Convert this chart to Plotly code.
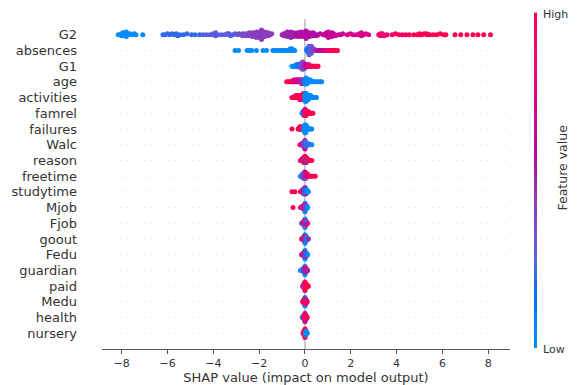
import numpy as np
import plotly.graph_objects as go

# ---------------- data ----------------
# feature order, top (most important) to bottom
feature_names = ["G2", "absences", "G1", "age", "activities", "famrel", "failures",
                 "Walc", "reason", "freetime", "studytime", "Mjob", "Fjob", "goout",
                 "Fedu", "guardian", "paid", "Medu", "health", "nursery"]

# each entry: (SHAP value, raw feature value, number of samples at that point)
G2 = [(-8.15, 0, 1), (-8.05, 0, 1), (-8.0, 0, 2), (-7.95, 0, 1), (-7.9, 0, 2), (-7.85, 0, 2), (-7.8, 0, 2),
      (-7.72, 0, 1), (-7.65, 0, 1), (-7.55, 0, 1), (-7.45, 0, 1), (-7.38, 0, 1), (-7.08, 0, 1),
      (-6.2, 3, 1), (-6.1, 3, 1), (-6.0, 3, 1), (-5.9, 3, 1), (-5.8, 3, 1), (-5.7, 3, 1), (-5.62, 3, 2),
      (-5.55, 3, 1), (-5.45, 3, 1), (-5.3, 3, 1), (-5.15, 3, 1), (-4.95, 3, 1), (-4.8, 3, 1), (-4.6, 3, 1),
      (-4.45, 4, 1), (-4.3, 4, 1), (-4.15, 4, 1), (-4.0, 4, 2), (-3.9, 4, 2), (-3.8, 4, 1), (-3.65, 4, 1),
      (-3.5, 4, 1), (-3.4, 4, 1), (-3.32, 4, 2), (-3.25, 4, 1), (-3.15, 4, 1), (-3.05, 4, 1), (-2.95, 4, 1),
      (-2.88, 5, 1), (-2.8, 5, 1), (-2.72, 5, 2), (-2.65, 5, 1), (-2.58, 5, 2), (-2.5, 5, 2), (-2.42, 6, 2),
      (-2.35, 5, 2), (-2.28, 6, 3), (-2.2, 6, 3), (-2.12, 6, 4), (-2.05, 5, 3), (-1.98, 6, 4), (-1.9, 6, 4),
      (-1.82, 6, 3), (-1.75, 6, 3), (-1.68, 6, 2), (-1.6, 6, 2), (-1.52, 6, 1), (-1.45, 6, 1),
      (-1.0, 7, 1), (-0.92, 7, 2), (-0.85, 7, 3), (-0.78, 7, 3), (-0.7, 7, 4), (-0.62, 7, 3), (-0.55, 7, 3),
      (-0.48, 7, 2), (-0.4, 7, 2), (-0.32, 8, 3), (-0.25, 8, 3), (-0.18, 8, 3), (-0.1, 8, 3), (-0.02, 8, 3),
      (0.05, 8, 3), (0.12, 8, 2), (0.2, 8, 3), (0.28, 8, 2), (0.35, 8, 2), (0.42, 8, 2), (0.5, 8, 1),
      (0.58, 8, 1), (0.66, 8, 1),
      (0.8, 9, 1), (0.88, 9, 2), (0.95, 9, 2), (1.02, 9, 3), (1.1, 9, 3), (1.18, 9, 2), (1.25, 9, 2),
      (1.33, 9, 1), (1.45, 9, 1), (1.55, 9, 1), (1.65, 9, 1),
      (1.85, 10, 1), (1.98, 10, 1), (2.1, 10, 1), (2.25, 10, 1), (2.38, 10, 2), (2.46, 10, 2), (2.55, 10, 1),
      (2.65, 10, 1), (2.78, 10, 1),
      (3.22, 12, 1), (3.3, 12, 2), (3.38, 12, 2), (3.46, 12, 1), (3.58, 12, 1),
      (3.8, 13, 1), (3.95, 13, 1), (4.1, 13, 1), (4.25, 13, 1), (4.4, 13, 1), (4.55, 13, 1),
      (4.75, 14, 1), (4.9, 14, 1), (5.0, 14, 2), (5.1, 14, 1), (5.2, 14, 1), (5.32, 14, 2), (5.45, 14, 1),
      (5.6, 14, 1), (5.75, 14, 1), (5.9, 14, 1), (6.05, 14, 1), (6.15, 14, 1),
      (6.55, 15, 1), (6.8, 15, 1), (7.07, 16, 1), (7.33, 16, 1), (7.55, 17, 1), (7.8, 17, 1), (8.1, 18, 1)]

absences = [(-3.05, 0, 1), (-2.9, 0, 1), (-2.52, 0, 1), (-2.42, 0, 1), (-2.32, 0, 1), (-2.12, 0, 1),
            (-1.83, 0, 1), (-1.68, 0, 1), (-1.4, 0, 1), (-1.3, 0, 1), (-1.2, 0, 1), (-1.12, 0, 1),
            (-1.02, 0, 1), (-0.95, 0, 1), (-0.85, 0, 1), (-0.78, 0, 1), (-0.7, 0, 1), (-0.65, 0, 2),
            (-0.6, 0, 2), (-0.55, 0, 2), (-0.5, 0, 1), (-0.45, 0, 1),
            (0.08, 2, 2), (0.12, 2, 3), (0.15, 3, 3), (0.18, 3, 4), (0.2, 2, 2), (0.22, 4, 3), (0.25, 3, 3),
            (0.28, 4, 3), (0.3, 4, 2), (0.33, 5, 2), (0.37, 5, 1), (0.4, 5, 1),
            (0.45, 6, 1), (0.5, 6, 1), (0.55, 7, 1), (0.6, 7, 1), (0.65, 8, 1), (0.7, 8, 1), (0.75, 8, 1),
            (0.8, 9, 1), (0.85, 9, 1), (0.9, 10, 1), (0.95, 10, 1), (1.0, 11, 1), (1.05, 11, 1),
            (1.1, 12, 1), (1.15, 12, 1), (1.2, 13, 1), (1.25, 13, 1), (1.3, 14, 1), (1.36, 15, 1), (1.42, 16, 1)]

G1 = [(-0.57, 6, 1), (-0.52, 6, 1), (-0.48, 7, 1), (-0.44, 7, 1), (-0.41, 7, 1), (-0.38, 8, 2),
      (-0.35, 8, 1), (-0.32, 8, 2), (-0.29, 9, 2), (-0.26, 9, 2), (-0.23, 9, 2),
      (-0.2, 10, 3), (-0.18, 10, 3), (-0.16, 10, 2), (-0.16, 11, 2), (-0.14, 11, 4), (-0.12, 10, 3),
      (-0.12, 11, 2), (-0.1, 11, 3), (-0.1, 12, 3), (-0.08, 11, 4), (-0.06, 12, 3), (-0.06, 11, 2),
      (-0.04, 12, 3), (-0.02, 12, 3), (0.0, 12, 3), (0.02, 13, 2), (0.02, 12, 1), (0.04, 13, 2),
      (0.06, 13, 2), (0.08, 14, 2),
      (0.1, 14, 2), (0.12, 15, 2), (0.14, 15, 2), (0.16, 15, 1), (0.18, 16, 2), (0.2, 16, 1),
      (0.23, 16, 1), (0.26, 17, 1), (0.3, 17, 1), (0.34, 17, 1), (0.38, 18, 1), (0.43, 18, 1),
      (0.48, 18, 1), (0.53, 19, 1), (0.57, 19, 1)]

age = [(-0.8, 20, 1), (-0.74, 19, 1), (-0.68, 19, 1), (-0.62, 19, 1), (-0.56, 19, 1), (-0.5, 18, 2),
       (-0.45, 18, 2), (-0.4, 18, 2), (-0.36, 18, 2), (-0.32, 18, 2), (-0.28, 18, 2), (-0.24, 18, 2),
       (-0.2, 17, 2), (-0.17, 17, 2), (-0.14, 17, 3), (-0.11, 17, 2), (-0.08, 17, 2), (-0.05, 16, 2),
       (-0.02, 16, 3), (0.01, 16, 3), (0.03, 16, 3), (0.05, 15, 4), (0.07, 15, 3), (0.09, 15, 3),
       (0.12, 15, 2), (0.15, 15, 2), (0.19, 15, 2), (0.24, 15, 2), (0.3, 15, 1), (0.36, 15, 1),
       (0.42, 15, 1), (0.5, 15, 1), (0.58, 15, 1), (0.66, 15, 1), (0.73, 15, 1)]

activities = [(-0.57, 1, 1), (-0.52, 1, 1), (-0.47, 1, 1), (-0.43, 1, 2), (-0.39, 1, 2), (-0.35, 1, 2),
              (-0.31, 1, 2), (-0.27, 1, 2), (-0.23, 1, 3), (-0.2, 1, 3), (-0.17, 1, 3), (-0.14, 1, 3),
              (-0.11, 1, 3), (-0.08, 1, 4), (-0.05, 1, 4), (-0.03, 0, 3), (-0.01, 1, 3), (0.01, 0, 5),
              (0.03, 0, 4), (0.05, 0, 5), (0.07, 0, 4), (0.09, 0, 3), (0.12, 0, 3), (0.15, 0, 3),
              (0.18, 0, 2), (0.22, 0, 2), (0.26, 0, 2), (0.3, 0, 1), (0.35, 0, 1), (0.4, 0, 1),
              (0.45, 0, 1), (0.5, 0, 1)]

famrel = [(-0.13, 2, 1), (-0.11, 2, 1), (-0.09, 2, 2), (-0.07, 3, 2), (-0.05, 3, 3), (-0.04, 2, 2),
          (-0.03, 3, 3), (-0.02, 4, 3), (-0.01, 3, 3), (0.0, 4, 4), (0.01, 4, 4), (0.02, 5, 3),
          (0.03, 4, 3), (0.04, 5, 3), (0.05, 5, 3), (0.07, 5, 2), (0.09, 5, 2), (0.11, 5, 2),
          (0.14, 5, 2), (0.17, 5, 1), (0.2, 5, 1), (0.23, 5, 1), (0.26, 5, 1), (0.3, 5, 1), (0.35, 5, 1)]

failures = [(-0.57, 3, 1), (-0.3, 2, 1), (-0.27, 2, 1), (-0.24, 1, 2), (-0.21, 1, 2), (-0.18, 1, 2),
            (-0.15, 1, 2), (-0.12, 1, 2), (-0.1, 1, 2), (-0.08, 0, 2), (-0.06, 1, 2), (-0.04, 0, 3),
            (-0.02, 0, 4), (0.0, 0, 5), (0.01, 0, 5), (0.02, 0, 5), (0.03, 0, 4), (0.04, 0, 4),
            (0.05, 0, 3), (0.07, 0, 2), (0.09, 0, 2), (0.12, 0, 1), (0.16, 0, 1), (0.2, 0, 1),
            (0.25, 0, 1), (0.3, 0, 1)]

Walc = [(-0.22, 4, 1), (-0.18, 4, 1), (-0.15, 3, 1), (-0.12, 3, 2), (-0.1, 2, 2), (-0.08, 3, 2),
        (-0.06, 2, 3), (-0.04, 3, 3), (-0.03, 2, 3), (-0.02, 3, 4), (-0.01, 4, 4), (0.0, 2, 4),
        (0.0, 3, 3), (0.01, 1, 4), (0.02, 2, 4), (0.03, 3, 3), (0.04, 1, 3), (0.05, 2, 3),
        (0.07, 1, 2), (0.09, 2, 2), (0.12, 1, 2), (0.15, 2, 1), (0.19, 1, 1), (0.24, 2, 1), (0.3, 1, 1)]

reason = [(-0.2, 3, 1), (-0.16, 3, 1), (-0.12, 2, 2), (-0.09, 3, 2), (-0.06, 3, 3), (-0.04, 2, 3),
          (-0.02, 3, 4), (-0.01, 3, 4), (0.0, 3, 4), (0.01, 2, 4), (0.02, 3, 4), (0.03, 1, 3),
          (0.04, 3, 3), (0.06, 2, 3), (0.08, 3, 2), (0.1, 3, 2), (0.13, 0, 1), (0.16, 3, 1),
          (0.2, 3, 1), (0.25, 3, 1), (0.3, 3, 1)]

freetime = [(-0.2, 2, 1), (-0.16, 2, 1), (-0.12, 3, 2), (-0.09, 2, 2), (-0.07, 3, 3), (-0.05, 3, 3),
            (-0.03, 3, 4), (-0.02, 4, 3), (-0.01, 3, 4), (0.0, 3, 4), (0.01, 4, 4), (0.02, 3, 3),
            (0.03, 4, 3), (0.05, 3, 3), (0.07, 4, 2), (0.09, 4, 2), (0.12, 5, 2), (0.15, 4, 1),
            (0.2, 5, 1), (0.26, 5, 1), (0.35, 5, 1), (0.45, 5, 1)]

studytime = [(-0.57, 4, 1), (-0.44, 4, 1), (-0.2, 3, 1), (-0.16, 3, 1), (-0.12, 3, 2), (-0.09, 3, 2),
             (-0.06, 2, 3), (-0.04, 2, 3), (-0.02, 2, 4), (-0.01, 1, 4), (0.0, 2, 4), (0.01, 1, 4),
             (0.02, 2, 4), (0.03, 1, 3), (0.05, 2, 3), (0.07, 1, 2), (0.09, 1, 2), (0.12, 1, 1), (0.15, 1, 1)]

Mjob = [(-0.52, 4, 1), (-0.2, 3, 1), (-0.15, 4, 1), (-0.12, 3, 2), (-0.09, 4, 2), (-0.06, 2, 3),
        (-0.04, 3, 3), (-0.02, 1, 3), (-0.01, 4, 3), (0.0, 2, 4), (0.0, 0, 3), (0.01, 3, 4),
        (0.02, 1, 3), (0.03, 4, 3), (0.05, 0, 3), (0.07, 2, 2), (0.09, 1, 2), (0.12, 0, 1)]

Fjob = [(-0.15, 0, 1), (-0.11, 3, 1), (-0.08, 2, 2), (-0.05, 4, 3), (-0.03, 1, 3), (-0.02, 3, 4),
        (-0.01, 2, 4), (0.0, 4, 4), (0.0, 0, 3), (0.01, 2, 4), (0.02, 3, 4), (0.03, 1, 3),
        (0.05, 4, 3), (0.07, 0, 2), (0.09, 2, 1), (0.12, 3, 1)]

goout = [(-0.15, 4, 1), (-0.11, 3, 1), (-0.08, 3, 2), (-0.05, 2, 3), (-0.03, 3, 3), (-0.02, 1, 4),
         (-0.01, 2, 4), (0.0, 3, 4), (0.0, 1, 3), (0.01, 2, 4), (0.02, 3, 4), (0.03, 2, 3),
         (0.05, 1, 3), (0.07, 2, 2), (0.09, 1, 2), (0.12, 1, 1), (0.15, 2, 1)]

Fedu = [(-0.15, 3, 1), (-0.11, 2, 1), (-0.08, 2, 2), (-0.05, 3, 3), (-0.03, 1, 3), (-0.02, 2, 4),
        (-0.01, 3, 4), (0.0, 2, 4), (0.0, 1, 3), (0.01, 2, 4), (0.02, 3, 3), (0.03, 1, 3),
        (0.05, 2, 3), (0.07, 1, 2), (0.09, 2, 1), (0.12, 1, 1)]

guardian = [(-0.2, 0, 1), (-0.15, 0, 1), (-0.11, 0, 2), (-0.08, 0, 2), (-0.05, 1, 3), (-0.03, 0, 3),
            (-0.02, 1, 4), (-0.01, 1, 4), (0.0, 1, 4), (0.0, 0, 3), (0.01, 1, 4), (0.02, 2, 3),
            (0.03, 1, 3), (0.05, 1, 3), (0.07, 2, 2), (0.09, 1, 1), (0.12, 1, 1)]

paid = [(-0.1, 1, 1), (-0.07, 1, 2), (-0.05, 1, 3), (-0.03, 0, 3), (-0.02, 1, 4), (-0.01, 1, 4),
        (0.0, 0, 4), (0.0, 1, 3), (0.01, 1, 4), (0.02, 0, 3), (0.03, 1, 3), (0.05, 1, 3),
        (0.07, 1, 2), (0.09, 1, 2), (0.12, 1, 1), (0.15, 1, 1)]

Medu = [(-0.1, 4, 1), (-0.07, 3, 2), (-0.05, 4, 3), (-0.03, 4, 3), (-0.02, 3, 4), (-0.01, 4, 4),
        (0.0, 4, 4), (0.0, 2, 3), (0.01, 4, 4), (0.02, 3, 4), (0.03, 4, 3), (0.05, 4, 3),
        (0.07, 3, 2), (0.1, 4, 1)]

health = [(-0.12, 1, 1), (-0.09, 1, 2), (-0.06, 2, 2), (-0.04, 5, 3), (-0.02, 4, 4), (-0.01, 5, 4),
          (0.0, 5, 4), (0.0, 3, 3), (0.01, 5, 4), (0.02, 4, 4), (0.03, 5, 3), (0.05, 4, 3),
          (0.07, 5, 2), (0.1, 5, 1)]

nursery = [(-0.08, 1, 1), (-0.06, 1, 2), (-0.04, 1, 3), (-0.02, 1, 4), (-0.01, 1, 4), (0.0, 1, 4),
           (0.0, 1, 3), (0.01, 1, 4), (0.02, 1, 4), (0.03, 0, 3), (0.05, 0, 2), (0.07, 0, 2), (0.1, 0, 1)]

feature_data = [G2, absences, G1, age, activities, famrel, failures, Walc, reason, freetime,
                studytime, Mjob, Fjob, goout, Fedu, guardian, paid, Medu, health, nursery]

x_ticks = [-8, -6, -4, -2, 0, 2, 4, 6, 8]
x_title = "SHAP value (impact on model output)"
cbar_title = "Feature value"
cbar_labels = ["Low", "High"]


# ---------------- shap red_blue colormap ----------------
def lch2rgb(l, c, h):
    a, b = c * np.cos(h), c * np.sin(h)
    fy = (l + 16) / 116.0
    fx, fz = fy + a / 500.0, fy - b / 200.0

    def finv(t):
        return t ** 3 if t ** 3 > 0.008856 else (t - 16 / 116.0) / 7.787
    X, Y, Z = 0.95047 * finv(fx), finv(fy), 1.08883 * finv(fz)
    r = 3.2406 * X - 1.5372 * Y - 0.4986 * Z
    g = -0.9689 * X + 1.8758 * Y + 0.0415 * Z
    bb = 0.0557 * X - 0.2040 * Y + 1.0570 * Z
    out = []
    for v in (r, g, bb):
        v = 1.055 * v ** (1 / 2.4) - 0.055 if v > 0.0031308 else 12.92 * v
        out.append(int(round(255 * min(max(v, 0), 1))))
    return "rgb(%d,%d,%d)" % tuple(out)


blue_lch = [54.0, 70.0, 4.6588]
red_lch = [54.0, 90.0, 0.35470565 + 2 * np.pi]
l_mid = 40.0
nsteps = 21
half = nsteps // 2
l_vals = list(np.linspace(blue_lch[0], l_mid, half + 1)) + list(np.linspace(l_mid, red_lch[0], nsteps - half))[1:]
c_vals = np.linspace(blue_lch[1], red_lch[1], nsteps)
h_vals = np.linspace(blue_lch[2], red_lch[2], nsteps)
colorscale = [[float(p), lch2rgb(l, c, h)] for p, l, c, h in
              zip(np.linspace(0, 1, nsteps), l_vals, c_vals, h_vals)]


def scale_color(t):
    t = min(max(t, 0), 1)
    for i in range(len(colorscale) - 1):
        p0, c0 = colorscale[i]
        p1, c1 = colorscale[i + 1]
        if t <= p1:
            f = (t - p0) / (p1 - p0)
            a = [int(v) for v in c0[4:-1].split(",")]
            b = [int(v) for v in c1[4:-1].split(",")]
            return "rgb(%d,%d,%d)" % tuple(round(a[k] + f * (b[k] - a[k])) for k in range(3))
    return colorscale[-1][1]


# ---------------- beeswarm layout (shap algorithm) ----------------
def swarm_offsets(shaps, row_height=0.4, nbins=100):
    shaps = np.asarray(shaps, float)
    rng = shaps.max() - shaps.min()
    quant = np.round(nbins * (shaps - shaps.min()) / (rng + 1e-8))
    inds = np.argsort(quant, kind="stable")
    ys = np.zeros(len(shaps))
    layer, last = 0, -1
    for ind in inds:
        if quant[ind] != last:
            layer = 0
        ys[ind] = np.ceil(layer / 2) * ((layer % 2) * 2 - 1)
        layer += 1
        last = quant[ind]
    ys *= 0.9 * (row_height / np.max(ys + 1))
    return ys


def norm_values(vals):
    v = np.asarray(vals, float)
    vmin, vmax = np.percentile(v, 5), np.percentile(v, 95)
    if vmin == vmax:
        vmin, vmax = np.percentile(v, 1), np.percentile(v, 99)
    if vmin == vmax:
        vmin, vmax = v.min(), v.max()
    if vmin == vmax:
        return np.full(len(v), 0.5)
    return (np.clip(v, vmin, vmax) - vmin) / (vmax - vmin)


n_feat = len(feature_names)
xs, ys, cs = [], [], []
# draw from bottom row to top row, like shap
for idx in range(n_feat - 1, -1, -1):
    pos = n_feat - 1 - idx
    pts = feature_data[idx]
    sh = [p[0] for p in pts for _ in range(p[2])]
    fv = [p[1] for p in pts for _ in range(p[2])]
    off = swarm_offsets(sh)
    xs.extend(sh)
    ys.extend(list(pos + off))
    cs.extend(list(norm_values(fv)))

L, R, T, B = 102, 70, 19, 36
W, H = 580, 385
pw, ph = W - L - R, H - T - B
x_range = [-8.86, 8.95]


def px_x(px):
    return (px - L) / pw


def px_y(py):
    return (H - B - py) / ph


fig = go.Figure()
fig.add_trace(go.Scatter(
    x=xs, y=ys, mode="markers", hoverinfo="skip",
    marker=dict(size=5, color=cs, colorscale=colorscale, cmin=0, cmax=1,
                line=dict(width=0), opacity=1, showscale=False),
    showlegend=False,
))

shapes = []
for pos in range(n_feat):
    shapes.append(dict(type="line", xref="x", yref="y", x0=x_range[0], x1=x_range[1], y0=pos, y1=pos,
                       line=dict(color="#cfcfcf", width=0.7, dash="1px,5px"), layer="below"))
shapes.append(dict(type="line", xref="x", yref="y", x0=0, x1=0, y0=-1, y1=n_feat,
                   line=dict(color="#999999", width=1), layer="below"))

# colour bar drawn as a stack of thin rectangles
cb_top, cb_bot, cb_x0, cb_x1 = 13, 348, 534, 537
nseg = 110
for k in range(nseg):
    t0 = k / nseg
    t1 = (k + 1) / nseg
    y0 = cb_bot - t0 * (cb_bot - cb_top)
    y1 = cb_bot - t1 * (cb_bot - cb_top) - 0.4
    shapes.append(dict(type="rect", xref="paper", yref="paper",
                       x0=px_x(cb_x0), x1=px_x(cb_x1), y0=px_y(y0), y1=px_y(y1),
                       fillcolor=scale_color((t0 + t1) / 2), line=dict(width=0), layer="above"))

annotations = [
    dict(text=cbar_title, xref="paper", yref="paper", x=px_x(571), y=px_y(168), showarrow=False,
         textangle=-90, font=dict(family="DejaVu Sans", size=12.5, color="#333333")),
    dict(text=cbar_labels[1], xref="paper", yref="paper", x=px_x(541), y=px_y(15), showarrow=False,
         xanchor="left", yanchor="middle", font=dict(family="DejaVu Sans", size=11, color="#333333")),
    dict(text=cbar_labels[0], xref="paper", yref="paper", x=px_x(541), y=px_y(349), showarrow=False,
         xanchor="left", yanchor="middle", font=dict(family="DejaVu Sans", size=11, color="#333333")),
]

fig.update_layout(
    width=W, height=H,
    margin=dict(l=L, r=R, t=T, b=B, pad=0),
    paper_bgcolor="white", plot_bgcolor="white",
    font=dict(family="DejaVu Sans", color="#333333"),
    shapes=shapes,
    annotations=annotations,
    xaxis=dict(range=x_range, tickvals=x_ticks, showgrid=False, zeroline=False,
               showline=True, linecolor="#555555", linewidth=1,
               ticks="outside", ticklen=4, tickcolor="#555555",
               tickfont=dict(size=11, color="#333333"),
               title=dict(text=x_title, font=dict(size=13, color="#333333"), standoff=4),
               automargin=False),
    yaxis=dict(range=[-1, n_feat], tickvals=list(range(n_feat)),
               ticktext=feature_names[::-1], showgrid=False, zeroline=False,
               showline=False, ticks="", ticklabelstandoff=24,
               tickfont=dict(size=13, color="#333333"), automargin=False),
)

fig.write_html("out.html", config={"displayModeBar": False, "staticPlot": True},
               post_script="document.body.style.margin='0';document.body.style.overflow='hidden';")
